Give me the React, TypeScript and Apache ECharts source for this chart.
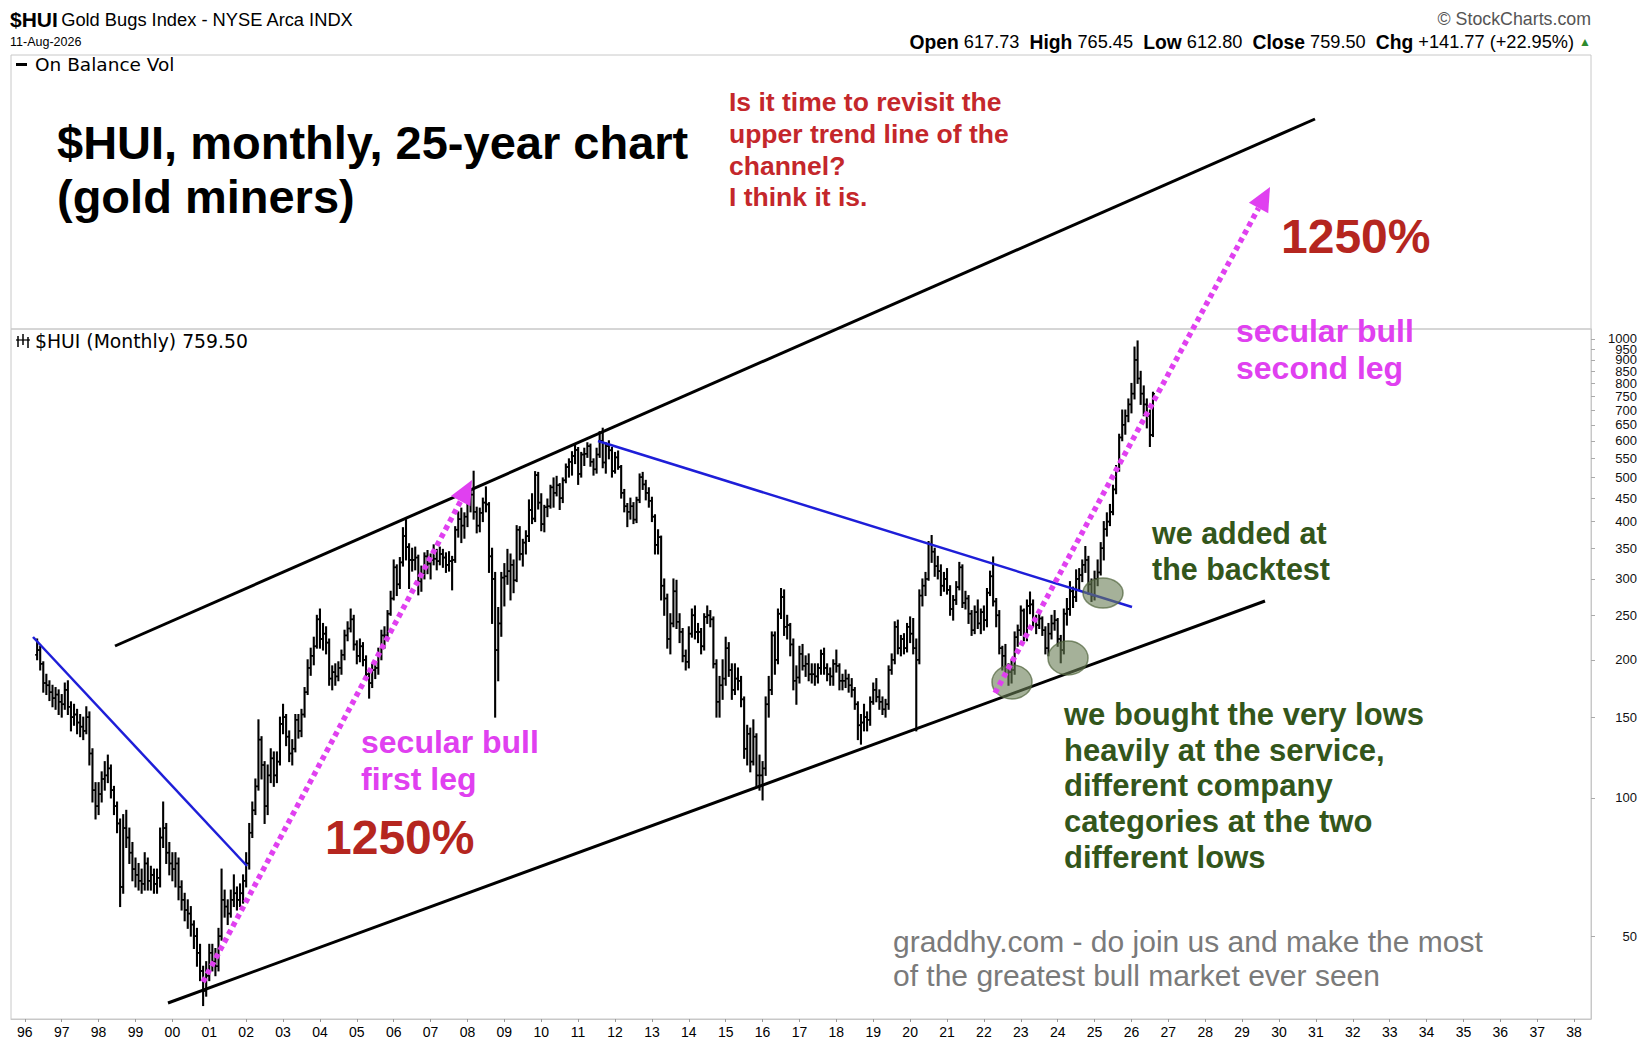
import React, { useEffect, useRef } from "react";
import * as echarts from "echarts";

// ---------- DATA ----------
const FIRST_BAR_MONTH = "1996-05";
const FIRST_OPEN = 205;

// monthly closes, May 1996 .. Aug 2026 (one row per year)
const monthlyClose = [
  210, 196, 178, 176, 170, 165, 168, 162,
  160, 172, 158, 150, 152, 146, 143, 140, 150, 125, 104, 96,
  102, 110, 112, 116, 104, 96, 88, 64, 86, 82, 76, 70,
  68, 66, 65, 72, 66, 68, 65, 67, 82, 86, 76, 72,
  70, 72, 64, 60, 57, 56, 53, 50, 46, 42, 38, 41,
  46, 44, 43, 50, 60, 58, 56, 60, 62, 60, 62, 66,
  72, 84, 94, 106, 134, 118, 96, 112, 122, 112, 120, 145,
  150, 136, 125, 128, 148, 140, 152, 170, 192, 204, 214, 245,
  222, 228, 218, 182, 188, 184, 192, 205, 226, 234, 245, 216,
  204, 214, 200, 186, 178, 190, 192, 205, 226, 226, 252, 272,
  318, 292, 326, 372, 352, 330, 330, 334, 296, 308, 336, 324,
  330, 332, 328, 340, 334, 322, 328, 330, 384, 405, 392, 410,
  440, 458, 420, 392, 418, 440, 436, 336, 300, 210, 240, 302,
  304, 312, 322, 298, 384, 340, 360, 372, 424, 406, 505, 440,
  395, 430, 432, 475, 462, 480, 450, 492, 526, 540, 556, 573,
  508, 560, 562, 584, 540, 520, 560, 600, 538, 584, 572, 515,
  552, 526, 462, 432, 420, 432, 404, 446, 500, 482, 462, 444,
  410, 356, 370, 290, 272, 222, 240, 282, 242, 230, 204, 198,
  228, 250, 230, 230, 214, 248, 250, 245, 196, 162, 176, 182,
  212, 190, 172, 182, 180, 164, 128, 138, 120, 136, 112, 112,
  116, 160, 172, 226, 200, 252, 274, 236, 238, 216, 180, 183,
  206, 194, 196, 186, 186, 184, 192, 206, 192, 186, 184, 196,
  194, 180, 180, 182, 176, 172, 160, 144, 146, 150, 148, 162,
  172, 166, 162, 156, 160, 190, 200, 236, 212, 222, 212, 236,
  228, 212, 200, 276, 290, 300, 358, 344, 320, 312, 290, 300,
  284, 258, 270, 288, 318, 266, 272, 252, 232, 254, 240, 254,
  244, 280, 304, 268, 250, 212, 204, 192, 188, 190, 224, 232,
  256, 226, 262, 264, 244, 238, 246, 232, 212, 228, 240, 244,
  222, 210, 252, 258, 282, 274, 300, 306, 322, 330, 292, 276,
  300, 310, 350, 385, 400, 420, 470, 520, 610, 650, 680, 720,
  760, 900, 820, 760, 720, 680, 617.73, 759.5,
];

const monthlyHigh = [
  222, 214, 198, 186, 180, 176, 174, 172,
  168, 178, 180, 162, 160, 156, 152, 150, 158, 154, 128, 108,
  108, 114, 120, 124, 118, 106, 98, 90, 92, 94, 86, 80,
  74, 72, 70, 76, 74, 71, 70, 70, 86, 98, 88, 80,
  76, 76, 74, 66, 62, 60, 58, 54, 52, 48, 43, 44,
  48, 48, 47, 52, 70, 63, 60, 63, 68, 64, 65, 68,
  76, 88, 98, 110, 148, 136, 120, 118, 128, 126, 126, 150,
  160, 152, 140, 134, 152, 152, 156, 174, 200, 212, 224, 250,
  258, 240, 236, 222, 194, 196, 198, 210, 232, 242, 258, 250,
  220, 222, 218, 204, 190, 196, 198, 212, 232, 236, 256, 282,
  330, 322, 334, 388, 404, 358, 350, 352, 338, 320, 342, 346,
  340, 356, 348, 352, 348, 342, 344, 336, 390, 420, 428, 418,
  455, 470, 515, 430, 428, 450, 476, 440, 350, 310, 260, 310,
  324, 348, 340, 330, 392, 390, 366, 382, 446, 460, 514, 512,
  460, 434, 448, 480, 498, 502, 484, 498, 534, 548, 568, 586,
  580, 566, 578, 594, 590, 548, 578, 628, 639, 594, 600, 580,
  566, 570, 530, 470, 438, 450, 440, 452, 508, 512, 492, 474,
  452, 414, 384, 372, 300, 278, 252, 300, 298, 252, 234, 210,
  236, 258, 262, 240, 234, 252, 262, 256, 248, 200, 184, 200,
  224, 218, 196, 196, 192, 184, 166, 144, 142, 148, 138, 124,
  120, 166, 184, 230, 230, 258, 286, 284, 250, 240, 222, 194,
  214, 216, 204, 206, 196, 196, 196, 210, 212, 196, 192, 200,
  210, 196, 186, 190, 186, 182, 174, 162, 152, 160, 154, 166,
  178, 182, 172, 166, 164, 194, 206, 242, 244, 226, 228, 240,
  248, 246, 222, 284, 300, 310, 362, 373, 350, 336, 322, 310,
  316, 290, 276, 296, 326, 322, 282, 276, 256, 262, 270, 258,
  262, 286, 312, 335, 272, 256, 214, 216, 196, 200, 230, 238,
  262, 258, 270, 281, 270, 250, 254, 248, 236, 240, 250, 256,
  246, 226, 258, 272, 296, 288, 314, 316, 330, 353, 336, 300,
  312, 330, 360, 400, 418, 436, 480, 530, 620, 700, 700, 740,
  800, 960, 990, 850, 790, 740, 700, 765.45,
];

const monthlyLow = [
  200, 190, 170, 168, 163, 158, 156, 152,
  150, 156, 152, 140, 144, 138, 136, 134, 138, 118, 98, 90,
  92, 98, 104, 108, 100, 92, 84, 58, 62, 78, 72, 66,
  64, 63, 62, 63, 63, 63, 62, 62, 64, 78, 72, 68,
  66, 64, 60, 57, 54, 52, 50, 47, 43, 40, 35.3, 37,
  40, 42, 41, 42, 49, 55, 53, 55, 58, 57, 58, 59,
  64, 70, 82, 92, 104, 110, 88, 92, 108, 106, 108, 118,
  138, 130, 120, 118, 126, 135, 136, 150, 168, 185, 195, 212,
  212, 210, 206, 176, 172, 176, 180, 186, 200, 220, 230, 210,
  196, 198, 194, 182, 165, 174, 182, 186, 200, 212, 220, 250,
  270, 276, 286, 320, 330, 286, 312, 314, 277, 282, 300, 308,
  300, 322, 314, 322, 318, 310, 312, 284, 326, 370, 360, 368,
  390, 420, 405, 378, 380, 400, 420, 310, 240, 150, 180, 225,
  262, 292, 270, 280, 296, 330, 320, 340, 362, 396, 400, 426,
  382, 380, 410, 428, 430, 455, 425, 440, 486, 500, 505, 535,
  482, 500, 530, 552, 528, 505, 510, 552, 524, 510, 548, 500,
  510, 520, 450, 420, 390, 405, 396, 398, 440, 470, 446, 430,
  400, 340, 340, 270, 250, 212, 206, 236, 234, 218, 198, 190,
  192, 224, 222, 218, 206, 210, 240, 236, 192, 150, 150, 164,
  176, 184, 164, 168, 172, 158, 122, 118, 114, 118, 106, 104,
  99, 112, 150, 168, 186, 196, 246, 226, 222, 204, 172, 160,
  178, 190, 184, 180, 178, 176, 178, 186, 186, 180, 176, 176,
  188, 172, 172, 174, 170, 166, 156, 134, 131, 140, 140, 144,
  160, 162, 156, 152, 150, 156, 186, 196, 206, 204, 206, 208,
  218, 206, 140, 196, 262, 276, 298, 326, 304, 300, 276, 282,
  278, 250, 244, 264, 284, 260, 258, 240, 226, 228, 234, 228,
  232, 236, 276, 262, 236, 206, 190, 186, 176, 178, 186, 214,
  226, 220, 220, 252, 236, 228, 234, 226, 206, 204, 222, 232,
  214, 197, 206, 238, 250, 260, 268, 284, 296, 310, 278, 268,
  270, 290, 306, 330, 372, 392, 414, 460, 515, 600, 620, 660,
  690, 740, 800, 720, 680, 640, 583, 612.8,
];

const AXIS_FIRST_MONTH = [1995, 9];
const AXIS_LAST_MONTH = [2038, 6];
// price scale labels (the crowded 950 label sits on a twin axis so the 1000 end label can stay)
const priceTicks = [50, 100, 150, 200, 250, 300, 350, 400, 450, 500, 550, 600, 650, 700, 750, 800, 850, 900, 1000];
const priceTicksTwin = [950];
const PRICE_MIN = 33;
const PRICE_MAX = 1051;

// ---------- LAYOUT ----------
const W = 1646;
const H = 1048;
const GRID_LEFT = 11;
const GRID_RIGHT_X = 1591;
const GRID_TOP = 329;
const GRID_BOTTOM_Y = 1019;
const OBV_TOP = 55;

const SANS = "'Liberation Sans', Arial, Helvetica, sans-serif";
const NARROW = "'Liberation Sans Narrow', 'Arial Narrow', 'Liberation Sans', Arial, sans-serif";
const VERD = "'DejaVu Sans', Verdana, sans-serif";

function buildMonths(): string[] {
  const out: string[] = [];
  let y = AXIS_FIRST_MONTH[0];
  let m = AXIS_FIRST_MONTH[1];
  while (y < AXIS_LAST_MONTH[0] || (y === AXIS_LAST_MONTH[0] && m <= AXIS_LAST_MONTH[1])) {
    out.push(`${y}-${String(m).padStart(2, "0")}`);
    m++;
    if (m > 12) { m = 1; y++; }
  }
  return out;
}

function dottedArrow(x1: number, y1: number, x2: number, y2: number, color: string): any[] {
  const dx = x2 - x1, dy = y2 - y1;
  const len = Math.hypot(dx, dy);
  const ux = dx / len, uy = dy / len;
  const headLen = 24, headW = 11;
  const bx = x2 - ux * headLen, by = y2 - uy * headLen;
  const px = -uy, py = ux;
  return [
    { type: "line", z: 120, shape: { x1, y1, x2: bx, y2: by }, style: { stroke: color, lineWidth: 5.5, lineDash: [5, 4] } },
    { type: "polygon", z: 120, shape: { points: [[x2, y2], [bx + px * headW, by + py * headW], [bx - px * headW, by - py * headW]] }, style: { fill: color } },
  ];
}

function txt(x: number, y: number, text: string, size: number, color: string, weight = "bold", family = SANS, extra: any = {}) {
  return {
    type: "text", x, y, z: 130,
    style: { text, fill: color, fontSize: size, fontWeight: weight, fontFamily: family, verticalAlign: "middle", align: "left", ...extra },
  };
}

export default function App() {
  const ref = useRef<HTMLDivElement>(null);

  useEffect(() => {
    if (!ref.current) return;
    const chart = echarts.init(ref.current, undefined, { renderer: "svg" });
    const months = buildMonths();
    const startIdx = months.indexOf(FIRST_BAR_MONTH);
    const bars = monthlyClose.map((c, i) => {
      const o = i === 0 ? FIRST_OPEN : monthlyClose[i - 1];
      const hi = Math.max(monthlyHigh[i], o, c);
      const lo = Math.min(monthlyLow[i], o, c);
      return [startIdx + i, o, hi, lo, c];
    });

    const MAG = "#e040f0";
    const BLUE = "#1e1ed8";
    const RED = "#c4272b";
    const DRED = "#b5261f";
    const GREEN = "#33561b";

    const graphics: any[] = [
      // OBV panel frame
      { type: "rect", z: 1, shape: { x: GRID_LEFT, y: OBV_TOP, width: GRID_RIGHT_X - GRID_LEFT, height: GRID_TOP - OBV_TOP }, style: { fill: "none", stroke: "#c8c8c8", lineWidth: 1 } },
      // header
      {
        type: "text", x: 10, y: 19, z: 130,
        style: {
          text: "{a|$HUI} {b|Gold Bugs Index - NYSE Arca INDX}",
          verticalAlign: "middle",
          rich: {
            a: { fontSize: 21, fontWeight: "bold", fontFamily: NARROW, fill: "#000" },
            b: { fontSize: 18.3, fontFamily: NARROW, fill: "#000" },
          },
        },
      },
      txt(10, 42, "11-Aug-2026", 12.5, "#000", "normal", NARROW),
      txt(GRID_RIGHT_X, 19, "© StockCharts.com", 17.8, "#555", "normal", NARROW, { align: "right" }),
      {
        type: "text", x: GRID_RIGHT_X, y: 42, z: 130,
        style: {
          text: "{b|Open} 617.73  {b|High} 765.45  {b|Low} 612.80  {b|Close} 759.50  {b|Chg} +141.77 (+22.95%) {g|▲}",
          align: "right", verticalAlign: "middle", fontSize: 18.2, fontFamily: NARROW, fill: "#000",
          rich: {
            b: { fontSize: 19.3, fontWeight: "bold", fontFamily: NARROW, fill: "#000" },
            g: { fontSize: 12, fill: "#2e8b2e", fontFamily: SANS },
          },
        },
      },
      // legends
      { type: "rect", z: 130, shape: { x: 16, y: 63, width: 11, height: 3 }, style: { fill: "#000" } },
      txt(35, 64, "On Balance Vol", 18.5, "#000", "normal", VERD),
      { type: "group", z: 130, children: [
        { type: "line", shape: { x1: 18, y1: 336, x2: 18, y2: 347 }, style: { stroke: "#000", lineWidth: 1.5 } },
        { type: "line", shape: { x1: 23, y1: 334, x2: 23, y2: 345 }, style: { stroke: "#000", lineWidth: 1.5 } },
        { type: "line", shape: { x1: 28, y1: 337, x2: 28, y2: 348 }, style: { stroke: "#000", lineWidth: 1.5 } },
        { type: "line", shape: { x1: 16, y1: 340, x2: 30, y2: 340 }, style: { stroke: "#000", lineWidth: 1.2 } },
      ] },
      txt(35, 341, "$HUI (Monthly) 759.50", 18.8, "#000", "normal", VERD),

      // trend lines
      { type: "line", z: 110, shape: { x1: 115, y1: 646, x2: 1315, y2: 119 }, style: { stroke: "#000", lineWidth: 3 } },
      { type: "line", z: 110, shape: { x1: 168, y1: 1003, x2: 1265, y2: 601 }, style: { stroke: "#000", lineWidth: 3 } },
      { type: "line", z: 110, shape: { x1: 33, y1: 637, x2: 247, y2: 866 }, style: { stroke: BLUE, lineWidth: 2.5 } },
      { type: "line", z: 110, shape: { x1: 598, y1: 441, x2: 1132, y2: 607 }, style: { stroke: BLUE, lineWidth: 2.5 } },

      // ellipses
      { type: "ellipse", z: 115, shape: { cx: 1012, cy: 682, rx: 20, ry: 17 }, style: { fill: "rgba(105,125,85,0.6)", stroke: "rgba(80,100,60,0.7)", lineWidth: 1.5 } },
      { type: "ellipse", z: 115, shape: { cx: 1068, cy: 658, rx: 20, ry: 17 }, style: { fill: "rgba(105,125,85,0.6)", stroke: "rgba(80,100,60,0.7)", lineWidth: 1.5 } },
      { type: "ellipse", z: 115, shape: { cx: 1103, cy: 593, rx: 20, ry: 15 }, style: { fill: "rgba(105,125,85,0.6)", stroke: "rgba(80,100,60,0.7)", lineWidth: 1.5 } },

      ...dottedArrow(203, 982, 472, 480, MAG),
      ...dottedArrow(995, 693, 1270, 187, MAG),

      // annotation texts
      txt(57, 142, "$HUI, monthly, 25-year chart", 47, "#000"),
      txt(57, 196, "(gold miners)", 47, "#000"),
      txt(729, 102, "Is it time to revisit the", 26.5, RED, "bold", NARROW),
      txt(729, 134, "upper trend line of the", 26.5, RED, "bold", NARROW),
      txt(729, 166, "channel?", 26.5, RED, "bold", NARROW),
      txt(729, 197, "I think it is.", 26.5, RED, "bold", NARROW),
      txt(1281, 236, "1250%", 48, DRED),
      txt(325, 837, "1250%", 48, DRED),
      txt(1236, 331, "secular bull", 32, MAG),
      txt(1236, 368, "second leg", 32, MAG),
      txt(361, 742, "secular bull", 32, MAG),
      txt(361, 779, "first leg", 32, MAG),
      txt(1152, 533, "we added at", 30.5, GREEN),
      txt(1152, 569, "the backtest", 30.5, GREEN),
      txt(1064, 714, "we bought the very lows", 31, GREEN),
      txt(1064, 750, "heavily at the service,", 31, GREEN),
      txt(1064, 785, "different company", 31, GREEN),
      txt(1064, 821, "categories at the two", 31, GREEN),
      txt(1064, 857, "different lows", 31, GREEN),
      txt(893, 941, "graddhy.com - do join us and make the most", 30, "#7a7a7a", "normal", SANS),
      txt(893, 975, "of the greatest bull market ever seen", 30, "#7a7a7a", "normal", SANS),
    ];

    const yLabelStyle = {
      align: "right", margin: 46, fontSize: 13, lineHeight: 8,
      formatter: (v: number) => String(Math.round(v)),
      fontFamily: SANS, color: "#111", showMaxLabel: true, showMinLabel: true, hideOverlap: false,
    };

    chart.setOption({
      animation: false,
      backgroundColor: "#fff",
      grid: {
        left: GRID_LEFT, right: W - GRID_RIGHT_X, top: GRID_TOP, bottom: H - GRID_BOTTOM_Y,
        show: true, borderColor: "#c8c8c8", borderWidth: 1, backgroundColor: "transparent",
      },
      xAxis: {
        type: "category",
        data: months,
        boundaryGap: true,
        axisLine: { show: true, lineStyle: { color: "#c8c8c8" } },
        axisTick: { show: true, alignWithLabel: true, interval: (i: number, v: string) => v.endsWith("-01"), length: 3, lineStyle: { color: "#999" } },
        axisLabel: {
          interval: (i: number, v: string) => v.endsWith("-01"),
          formatter: (v: string) => v.slice(2, 4),
          fontSize: 14, fontFamily: NARROW, color: "#000", margin: 6,
        },
        splitLine: { show: false },
      },
      yAxis: [
        {
          type: "log",
          logBase: 10,
          position: "right",
          min: PRICE_MIN,
          max: PRICE_MAX,
          axisLine: { show: true, lineStyle: { color: "#c8c8c8" } },
          axisTick: { show: true, customValues: priceTicks, length: 4, lineStyle: { color: "#aaa" } },
          axisLabel: { customValues: priceTicks, ...yLabelStyle },
          splitLine: { show: false },
          minorTick: { show: false },
          minorSplitLine: { show: false },
        },
        {
          type: "log",
          logBase: 10,
          position: "right",
          min: PRICE_MIN,
          max: PRICE_MAX,
          axisLine: { show: false },
          axisTick: { show: true, customValues: priceTicksTwin, length: 4, lineStyle: { color: "#aaa" } },
          axisLabel: { customValues: priceTicksTwin, ...yLabelStyle },
          splitLine: { show: false },
          minorTick: { show: false },
          minorSplitLine: { show: false },
        },
      ],
      series: [
        {
          type: "custom",
          name: "$HUI",
          data: bars,
          yAxisIndex: 0,
          encode: { x: 0, y: [1, 2, 3, 4] },
          clip: true,
          renderItem: (params: any, api: any) => {
            const x = api.value(0);
            const o = api.coord([x, api.value(1)]);
            const h = api.coord([x, api.value(2)]);
            const l = api.coord([x, api.value(3)]);
            const c = api.coord([x, api.value(4)]);
            const st = { stroke: "#000", lineWidth: 2.1 };
            return {
              type: "group",
              children: [
                { type: "line", shape: { x1: h[0], y1: h[1] - 0.5, x2: l[0], y2: l[1] + 0.5 }, style: st },
                { type: "line", shape: { x1: o[0] - 2, y1: o[1], x2: o[0], y2: o[1] }, style: { stroke: "#000", lineWidth: 1.6 } },
                { type: "line", shape: { x1: c[0], y1: c[1], x2: c[0] + 2, y2: c[1] }, style: { stroke: "#000", lineWidth: 1.6 } },
              ],
            };
          },
        },
      ],
      graphic: graphics,
    });

    return () => chart.dispose();
  }, []);

  return <div ref={ref} style={{ position: "fixed", left: 0, top: 0, width: W, height: H, background: "#fff" }} />;
}
